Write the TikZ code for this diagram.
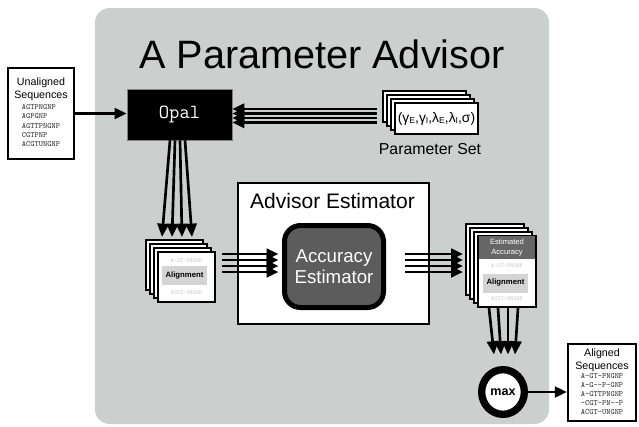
\documentclass[tikz,border=0pt]{standalone}
\usepackage{fontspec}
\setmainfont{Liberation Sans}
\usetikzlibrary{shapes.geometric,arrows.meta,positioning}
\definecolor{panelgray}{RGB}{203,207,206}
\definecolor{estgray}{RGB}{92,92,92}
\definecolor{headgray}{RGB}{102,102,102}
\definecolor{labelgray}{RGB}{212,212,212}
\definecolor{faintgray}{RGB}{200,200,200}
\definecolor{seqgray}{RGB}{50,50,50}
\newcommand{\psub}[1]{\raisebox{-0.25ex}{\fontsize{6.5}{6.5}\selectfont #1}}
\tikzstyle{panel} = [rectangle, rounded corners=11pt, fill=panelgray, minimum width=340.5pt, minimum height=312pt]
\tikzstyle{seqbox} = [rectangle, draw=black, line width=1.6pt, fill=white, inner sep=0pt, align=center, font=\fontsize{8}{9.75}\selectfont]
\tikzstyle{pcard} = [rectangle, draw=black, line width=1.5pt, fill=white, minimum width=62.25pt, minimum height=23.25pt, inner sep=0pt]
\tikzstyle{acard} = [rectangle, draw=black, line width=1.5pt, fill=white, minimum width=42.75pt, minimum height=37.5pt, inner sep=0pt]
\tikzstyle{rcard} = [rectangle, draw=black, line width=1.5pt, fill=white, minimum width=43.5pt, minimum height=53.25pt, inner sep=0pt]
\tikzstyle{alignlabel} = [rectangle, fill=labelgray, minimum width=33.75pt, minimum height=14.25pt, inner sep=0pt, font=\bfseries\fontsize{5.8}{6}\selectfont]
\tikzstyle{faint} = [inner sep=0pt, text=faintgray, font=\ttfamily\fontsize{4.5}{4.5}\selectfont]
\tikzstyle{arrow} = [line width=2pt, -{Triangle[length=9pt,width=8pt]}]
\tikzstyle{fanarrow} = [line width=2pt, -{Triangle[length=10pt,width=8.5pt]}]

\begin{document}
\begin{tikzpicture}[x=0.75pt,y=-0.75pt]
\useasboundingbox (0,0) rectangle (639,426);
% nodes
\node (panel) [panel] at (322,216) {};
\node (title) [anchor=base, font=\fontsize{29.7}{30}\selectfont] at (322,68.5) {A Parameter Advisor};

\node (unaligned) [seqbox, minimum width=49.5pt, minimum height=68.25pt] at (41,113.5) {Unaligned\\Sequences\\[1pt]{\ttfamily\color{seqgray}\fontsize{6}{7}\selectfont\begin{tabular}{@{}l@{}}AGTPNGNP\\AGPGNP\\AGTTPNGNP\\CGTPNP\\ACGTUNGNP\end{tabular}}};
\node (opal) [rectangle, fill=black, draw=gray, minimum width=78.75pt, minimum height=38.25pt, text=white, font=\ttfamily\fontsize{15}{15}\selectfont] at (179.5,114.5) {Opal};

\node (pcard1) [pcard] at (424.5,106.5) {};
\node (pcard2) [pcard] at (428.5,110.5) {};
\node (pcard3) [pcard] at (432.5,114.5) {};
\node (params) [pcard, font=\fontsize{10.4}{11}\selectfont] at (436.5,118.5) {(γ\psub{E},γ\psub{I},λ\psub{E},λ\psub{I},σ)};
\node (psetlabel) [anchor=base, font=\fontsize{11.9}{12}\selectfont] at (430,154) {Parameter Set};

\node (acard1) [acard] at (174.5,265) {};
\node (acard2) [acard] at (178.5,269) {};
\node (acard3) [acard] at (182.5,273) {};
\node (alignfront) [acard] at (186.5,277) {};
\node (seqtopL) [faint] at (186.5,261) {A-GT-PNGNP};
\node (seqbotL) [faint] at (186.5,293) {ACGT-UNGNP};
\node (alignL) [alignlabel] at (184.5,275.5) {Alignment};

\node (advisor) [rectangle, draw=black, line width=1.8pt, fill=white, minimum width=143.25pt, minimum height=105.75pt] at (333.5,253.5) {};
\node (advtitle) [anchor=base, font=\fontsize{15.75}{16}\selectfont] at (332.5,208.5) {Advisor Estimator};
\node (accest) [rectangle, rounded corners=12pt, draw=black, line width=3.75pt, fill=estgray, minimum width=74.25pt, minimum height=61.5pt, text=white, align=center, font=\fontsize{14}{15.75}\selectfont] at (334,266.5) {Accuracy\\Estimator};

\node (rcard1) [rcard] at (495,259.5) {};
\node (rcard2) [rcard] at (499,263.5) {};
\node (rcard3) [rcard] at (503,267.5) {};
\node (estfront) [rcard] at (507,271.5) {};
\node (estacc) [rectangle, fill=headgray, minimum width=42pt, minimum height=17.25pt, inner sep=0pt, anchor=north, text=white, align=center, font=\fontsize{5.7}{7.5}\selectfont] at ([yshift=-0.75pt]estfront.north) {Estimated\\Accuracy};
\node (seqtopR) [faint] at (507,266) {A-GT-PNGNP};
\node (seqbotR) [faint] at (507,299) {ACGT-UNGNP};
\node (alignR) [alignlabel] at (505.5,283) {Alignment};

\node (max) [ellipse, draw=black, line width=5.5pt, fill=white, minimum width=32pt, minimum height=33.5pt, inner sep=0pt, font=\bfseries\fontsize{9.4}{10}\selectfont] at (503,392) {max};
\node (aligned) [seqbox, minimum width=51pt, minimum height=57.75pt] at (602,382.5) {Aligned\\Sequences\\[0pt]{\ttfamily\color{seqgray}\fontsize{6}{6.6}\selectfont\begin{tabular}{@{}l@{}}A-GT-PNGNP\\A-G--P-GNP\\A-GTTPNGNP\\-CGT-PN--P\\ACGT-UNGNP\end{tabular}}};

% edges
\draw [arrow] (unaligned.east) -- (unaligned.east -| opal.west);

\draw [arrow] ([shift={(-5,2.5)}]pcard1.west) -- ([shift={(0,-5.5)}]opal.east);
\draw [arrow] ([shift={(-5,7)}]pcard1.west) -- ([shift={(0,-1)}]opal.east);
\draw [arrow] ([shift={(-5,11.5)}]pcard1.west) -- ([shift={(0,3.5)}]opal.east);
\draw [arrow] ([shift={(-5,16)}]pcard1.west) -- ([shift={(0,8)}]opal.east);

\draw [fanarrow] ([shift={(-9.5,0)}]opal.south) -- ([shift={(-12.5,-2)}]acard1.north);
\draw [fanarrow] ([shift={(-4.5,0)}]opal.south) -- ([shift={(-2.5,-2)}]acard1.north);
\draw [fanarrow] ([shift={(0.5,0)}]opal.south) -- ([shift={(7.5,-2)}]acard1.north);
\draw [fanarrow] ([shift={(5.5,0)}]opal.south) -- ([shift={(17.5,-2)}]acard1.north);

\draw [arrow] ([shift={(6,-23)}]alignfront.east) -- ([shift={(-3.5,-12.5)}]accest.west);
\draw [arrow] ([shift={(6,-17)}]alignfront.east) -- ([shift={(-3.5,-6.5)}]accest.west);
\draw [arrow] ([shift={(6,-11)}]alignfront.east) -- ([shift={(-3.5,-0.5)}]accest.west);
\draw [arrow] ([shift={(6,-5)}]alignfront.east) -- ([shift={(-3.5,5.5)}]accest.west);

\draw [arrow] ([shift={(18.5,-12.5)}]accest.east) -- ([shift={(-2,-5.5)}]rcard1.west);
\draw [arrow] ([shift={(18.5,-6.5)}]accest.east) -- ([shift={(-2,0.5)}]rcard1.west);
\draw [arrow] ([shift={(18.5,-0.5)}]accest.east) -- ([shift={(-2,6.5)}]rcard1.west);
\draw [arrow] ([shift={(18.5,5.5)}]accest.east) -- ([shift={(-2,12.5)}]rcard1.west);

\draw [fanarrow] ([shift={(-18,0)}]estfront.south) -- ([shift={(-9,-11.5)}]max.north);
\draw [fanarrow] ([shift={(-9,0)}]estfront.south) -- ([shift={(-2,-11.5)}]max.north);
\draw [fanarrow] ([shift={(1,0)}]estfront.south) -- ([shift={(5,-11.5)}]max.north);
\draw [fanarrow] ([shift={(11,0)}]estfront.south) -- ([shift={(12,-11.5)}]max.north);

\draw [arrow] (max.east) -- (max.east -| aligned.west);
\end{tikzpicture}
\end{document}
